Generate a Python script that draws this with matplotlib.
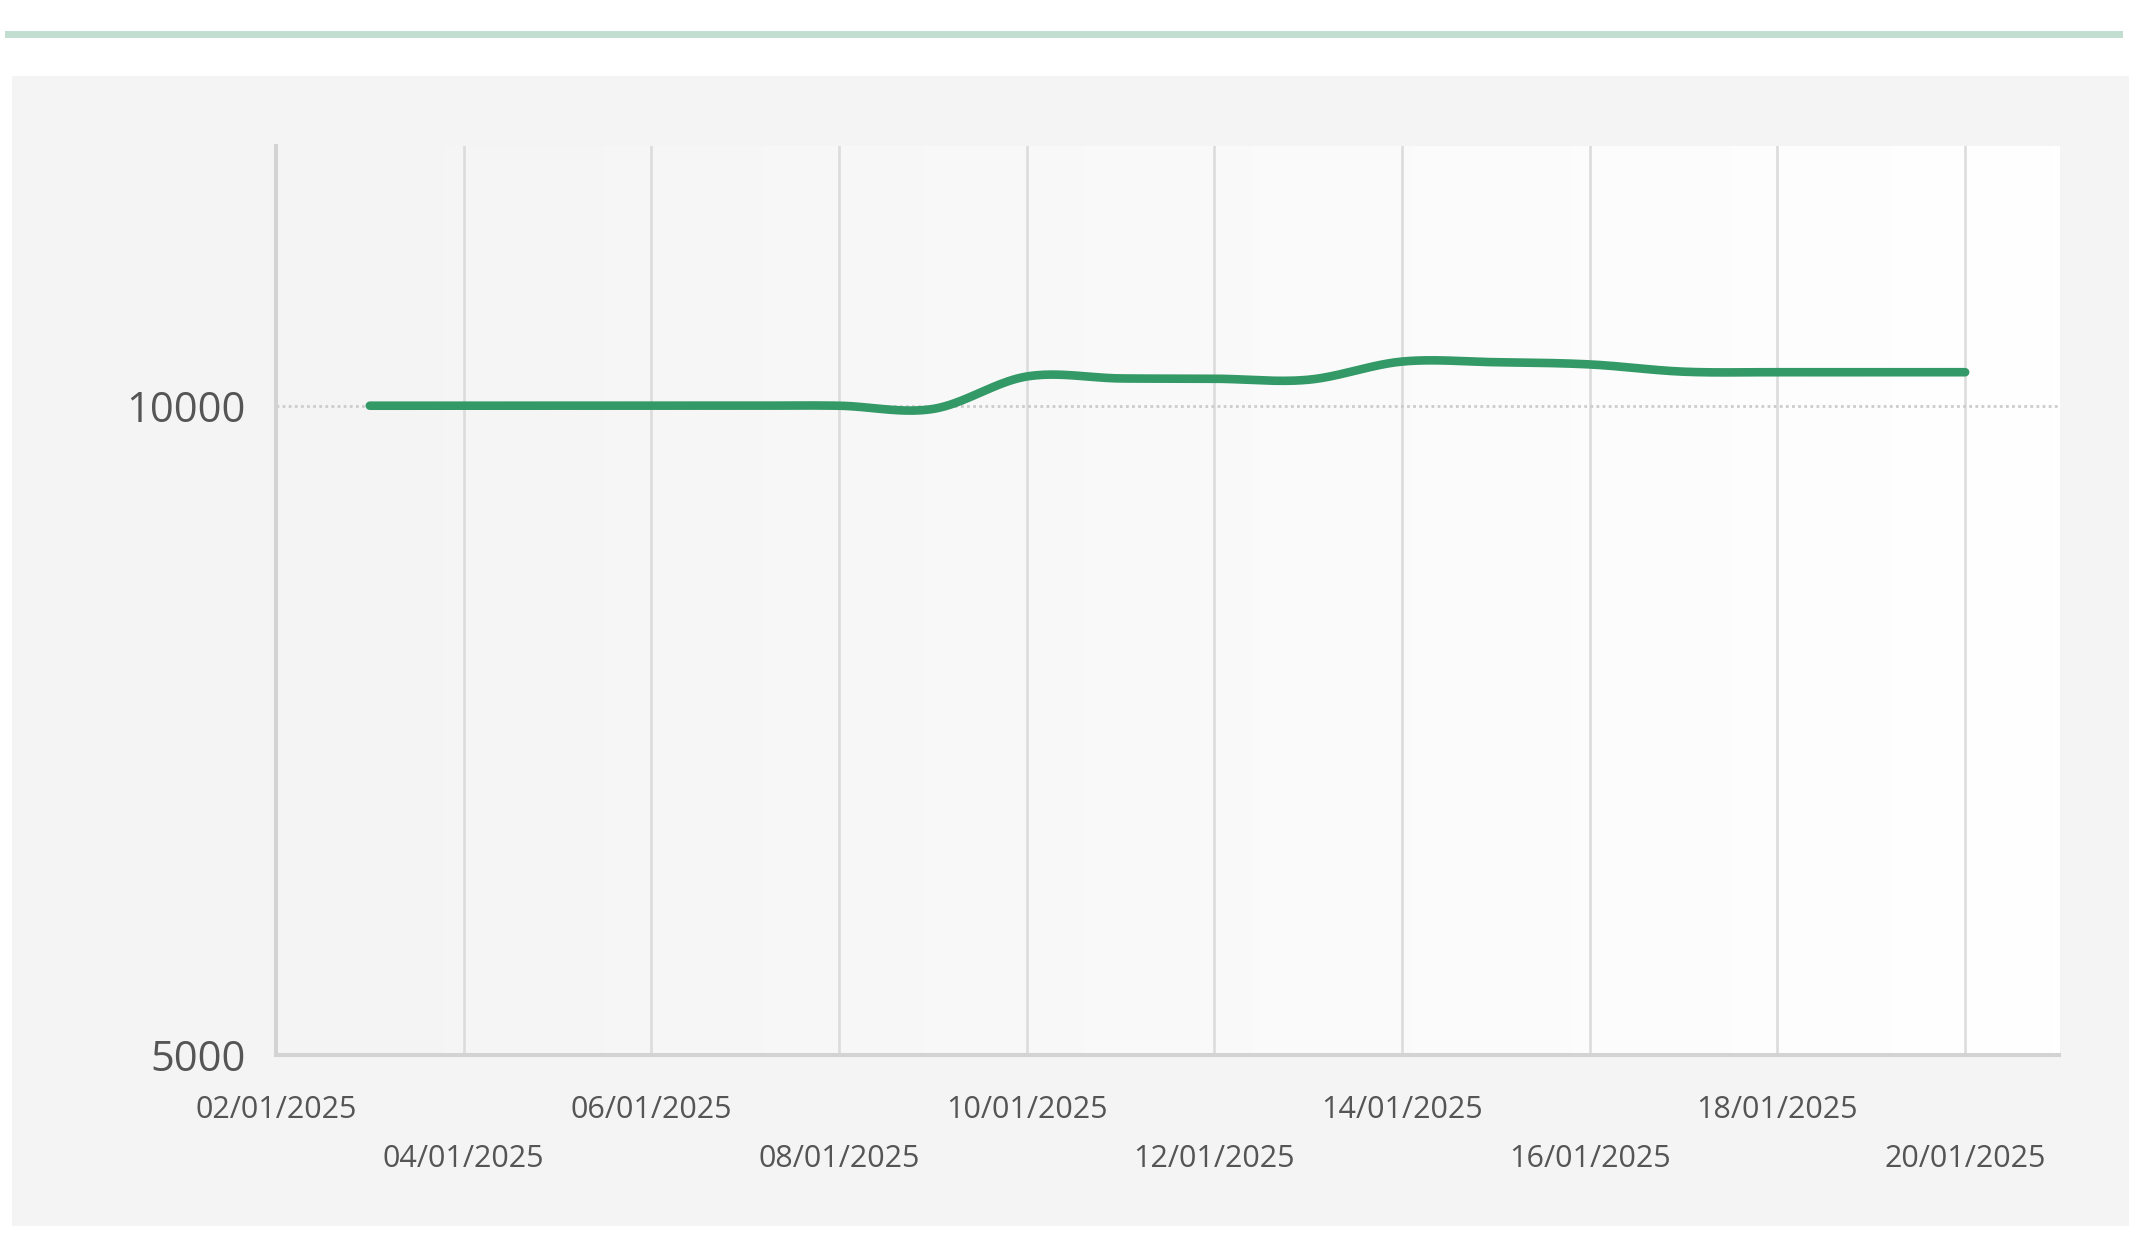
import matplotlib
matplotlib.use("Agg")
import matplotlib.pyplot as plt
import matplotlib.dates as mdates
import numpy as np
from datetime import date
from matplotlib.patches import Rectangle
from matplotlib.colors import LinearSegmentedColormap

# data
dates = [date(2025, 1, d) for d in range(3, 21)]
values = [10000, 10000, 10000, 10000, 10000, 10000, 9975, 10225, 10210,
          10208, 10200, 10340, 10335, 10318, 10262, 10258, 10258, 10258]
tick_dates = [date(2025, 1, d) for d in range(2, 21, 2)]
y_ticks = [5000, 10000]
y_range = (5000, 12000)
x_range = (date(2025, 1, 2), date(2025, 1, 21))

plt.rcParams["font.family"] = ["Open Sans", "DejaVu Sans"]

fig = plt.figure(figsize=(21.41, 12.52), dpi=100)
fig.patch.set_facecolor("white")

# outer grey panel and the green band on top
fig.add_artist(Rectangle((0.0056, 0.0208), 0.9888, 0.9185, transform=fig.transFigure,
                         facecolor="#f4f4f4", edgecolor="none", zorder=0))
fig.add_artist(Rectangle((0.0023, 0.9696), 0.9893, 0.0058, transform=fig.transFigure,
                         facecolor="#c2ded1", edgecolor="none", zorder=0))

ax = fig.add_axes([0.1289, 0.1573, 0.8328, 0.7261])
ax.set_facecolor("none")

x0, x1 = mdates.date2num(x_range[0]), mdates.date2num(x_range[1])
cmap = LinearSegmentedColormap.from_list("bg", ["#f4f4f4", "#ffffff"])
ax.imshow(np.linspace(0, 1, 256).reshape(1, -1), extent=[x0, x1, y_range[0], y_range[1]],
          aspect="auto", cmap=cmap, zorder=0)

# smooth curve through the daily points (cubic hermite)
x = mdates.date2num(dates)
y = np.array(values, dtype=float)
m = np.gradient(y, x)
m[0] = 0
m[-1] = 0
xs, ys = [], []
for i in range(len(x) - 1):
    t = np.linspace(0, 1, 40)
    h = x[i + 1] - x[i]
    h00 = 2 * t**3 - 3 * t**2 + 1
    h10 = t**3 - 2 * t**2 + t
    h01 = -2 * t**3 + 3 * t**2
    h11 = t**3 - t**2
    xs.extend(x[i] + t * h)
    ys.extend(h00 * y[i] + h10 * h * m[i] + h01 * y[i + 1] + h11 * h * m[i + 1])

ax.axhline(10000, color="#cccccc", lw=2.0, linestyle=(0, (1, 1.2)), zorder=1)
ax.plot(xs, ys, color="#339966", lw=6.2, solid_capstyle="round", zorder=3)

ax.set_xlim(x0, x1)
ax.set_ylim(*y_range)

ax.set_xticks(mdates.date2num(tick_dates))
ax.set_xticklabels([d.strftime("%d/%m/%Y") for d in tick_dates])
ax.grid(axis="x", color="#dcdcdc", lw=1.9, zorder=1)
ax.set_axisbelow(True)
ax.set_yticks(y_ticks)
ax.set_yticklabels([str(v) for v in y_ticks])

ax.tick_params(axis="x", length=0, labelsize=22, colors="#555555")
ax.tick_params(axis="y", length=0, labelsize=30, colors="#555555", pad=22)
for i, tick in enumerate(ax.xaxis.get_major_ticks()):
    tick.set_pad(29 if i % 2 == 0 else 64)

for side in ["top", "right"]:
    ax.spines[side].set_visible(False)
for side in ["left", "bottom"]:
    ax.spines[side].set_color("#d3d3d3")
    ax.spines[side].set_linewidth(2.9)
    ax.spines[side].set_zorder(4)

fig.savefig("out.png", dpi=100)
